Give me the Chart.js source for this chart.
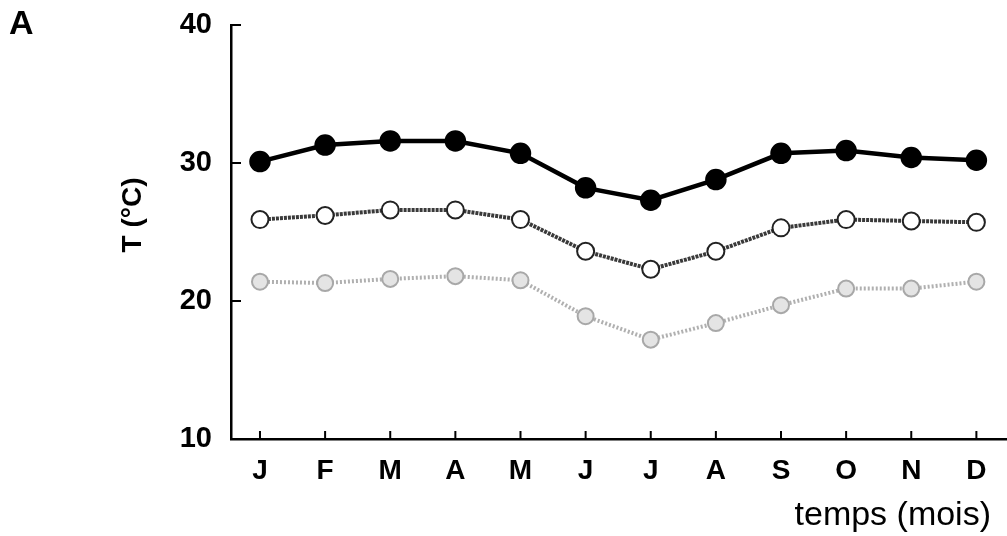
<!DOCTYPE html>
<html>
<head>
<meta charset="utf-8">
<script src="https://cdn.jsdelivr.net/npm/chart.js@4/dist/chart.umd.min.js"></script>
<style>
  html, body { margin: 0; padding: 0; background: #fff; }
  #wrap { position: relative; width: 1007px; height: 536px; }
</style>
</head>
<body>
<div id="wrap"><canvas id="chart" width="1007" height="536"></canvas></div>
<script>
// mois (abscisse)
const months = ['J', 'F', 'M', 'A', 'M', 'J', 'J', 'A', 'S', 'O', 'N', 'D'];
// températures (°C)
const tMax  = [30.1, 31.3, 31.6, 31.6, 30.7, 28.2, 27.3, 28.8, 30.7, 30.9, 30.4, 30.2];
const tMean = [25.9, 26.2, 26.6, 26.6, 25.9, 23.6, 22.3, 23.6, 25.3, 25.9, 25.8, 25.7];
const tMin  = [21.4, 21.3, 21.6, 21.8, 21.5, 18.9, 17.2, 18.4, 19.7, 20.9, 20.9, 21.4];
const yTicks = [10, 20, 30, 40];

const FONT = '"Liberation Sans", Arial, sans-serif';
const toXY = arr => arr.map((v, i) => ({ x: i + 1, y: v }));

// graduations vers l'intérieur, titres d'axes et lettre "A"
const decor = {
    id: 'decor',
    afterDraw(chart) {
        const { ctx, scales: { x, y } } = chart;
        ctx.save();
        ctx.strokeStyle = '#000';
        ctx.lineWidth = 2;
        ctx.beginPath();
        yTicks.forEach(v => {
            const py = y.getPixelForValue(v);
            ctx.moveTo(x.left, py);
            ctx.lineTo(x.left + 10, py);
        });
        months.forEach((m, i) => {
            const px = x.getPixelForValue(i + 1);
            ctx.moveTo(px, y.bottom);
            ctx.lineTo(px, y.bottom - 8);
        });
        ctx.stroke();

        ctx.fillStyle = '#000';
        ctx.font = 'bold 34px ' + FONT;
        ctx.textBaseline = 'top';
        ctx.textAlign = 'left';
        ctx.fillText('A', 9, 8);

        ctx.font = '34px ' + FONT;
        ctx.textAlign = 'right';
        ctx.textBaseline = 'middle';
        ctx.fillText('temps (mois)', 991, 516);

        ctx.translate(133, 215);
        ctx.rotate(-Math.PI / 2);
        ctx.textAlign = 'center';
        ctx.font = 'bold 28px ' + FONT;
        ctx.fillText('T (°C)', 0, 0);
        ctx.restore();
    }
};

new Chart(document.getElementById('chart'), {
    type: 'line',
    data: {
        datasets: [
            {
                label: 'max',
                data: toXY(tMax),
                borderColor: '#000',
                borderWidth: 4.5,
                pointRadius: 8.5,
                pointBackgroundColor: '#000',
                pointBorderColor: '#000',
                tension: 0
            },
            {
                label: 'min',
                data: toXY(tMin),
                borderColor: '#b0b0b0',
                borderWidth: 4,
                borderDash: [2, 2],
                pointRadius: 8,
                pointBorderWidth: 2,
                pointBackgroundColor: '#e4e4e4',
                pointBorderColor: '#a8a8a8',
                tension: 0
            },
            {
                label: 'moy',
                data: toXY(tMean),
                borderColor: '#3a3a3a',
                borderWidth: 4,
                borderDash: [3, 1],
                pointRadius: 8.5,
                pointBorderWidth: 2,
                pointBackgroundColor: '#fff',
                pointBorderColor: '#222',
                tension: 0
            }
        ]
    },
    options: {
        responsive: false,
        animation: false,
        layout: { autoPadding: false, padding: { top: 25, right: 0, left: 0, bottom: 0 } },
        plugins: {
            legend: { display: false },
            tooltip: { enabled: false }
        },
        scales: {
            x: {
                type: 'linear',
                min: 0.555,
                max: 12.47,
                afterBuildTicks: s => { s.ticks = months.map((m, i) => ({ value: i + 1 })); },
                afterFit: s => { s.height = 97; s.paddingLeft = 0; s.paddingRight = 0; },
                grid: { display: false, drawTicks: false },
                border: { display: true, color: '#000', width: 2.5 },
                ticks: {
                    color: '#000',
                    padding: 15,
                    maxRotation: 0,
                    autoSkip: false,
                    font: { family: FONT, size: 28, weight: 'bold' },
                    callback: v => months[Math.round(v) - 1]
                }
            },
            y: {
                min: 10,
                max: 40,
                afterBuildTicks: s => { s.ticks = yTicks.map(v => ({ value: v })); },
                afterFit: s => { s.width = 231; s.paddingTop = 0; s.paddingBottom = 0; },
                grid: { display: false, drawTicks: false },
                border: { display: true, color: '#000', width: 2.5 },
                ticks: {
                    color: '#000',
                    padding: 19,
                    font: { family: FONT, size: 29, weight: 'bold' }
                }
            }
        }
    },
    plugins: [decor]
});
</script>
</body>
</html>
